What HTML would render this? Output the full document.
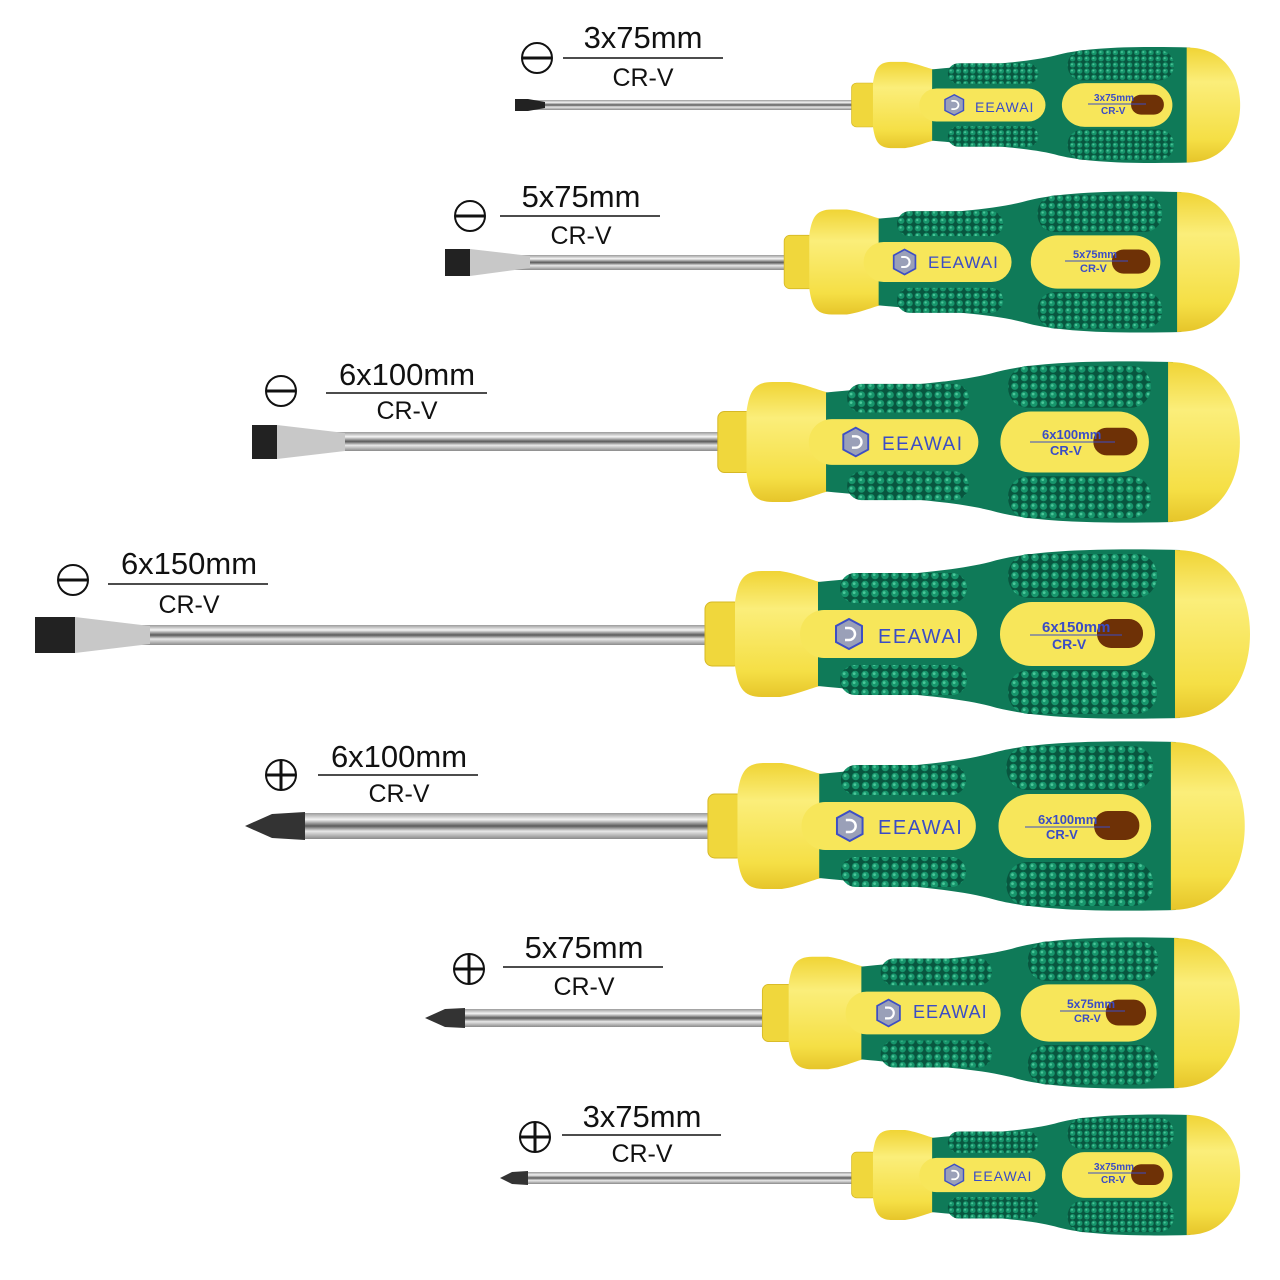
<!DOCTYPE html>
<html><head><meta charset="utf-8"><style>html,body{margin:0;padding:0;background:#fff}svg{display:block}</style></head>
<body>
<svg width="1280" height="1280" viewBox="0 0 1280 1280" xmlns="http://www.w3.org/2000/svg">
<defs>
<pattern id="dots" width="10" height="9" patternUnits="userSpaceOnUse">
<rect width="10" height="9" fill="#08563f"/>
<circle cx="5" cy="4.5" r="3.8" fill="#17966c"/>
<circle cx="4.2" cy="3.6" r="1.4" fill="#4cc79a"/>
</pattern>
<linearGradient id="sh" x1="0" y1="0" x2="0" y2="1">
<stop offset="0" stop-color="#9a9a9a"/><stop offset="0.25" stop-color="#f4f4f4"/><stop offset="0.5" stop-color="#5a5a5a"/><stop offset="0.7" stop-color="#e8e8e8"/><stop offset="1" stop-color="#8a8a8a"/>
</linearGradient>
<linearGradient id="yl" x1="0" y1="0" x2="0" y2="1">
<stop offset="0" stop-color="#f0d435"/><stop offset="0.3" stop-color="#fbee7a"/><stop offset="0.8" stop-color="#f5df45"/><stop offset="1" stop-color="#e6c52a"/>
</linearGradient>
<g id="h">
<rect x="5" y="-32" width="36" height="64" rx="7" fill="#f0d73c" stroke="#d6b825"/>
<path d="M35,-32 C38,-52 42,-63 62,-63 L80,-63 C100,-60 112,-53 125,-51 L125,51 C112,53 100,60 80,63 L62,63 C42,63 38,52 35,32 Z" fill="url(#yl)"/>
<path d="M118,-52 C200,-60 250,-62 290,-72 C330,-84 400,-86 480,-84 L480,84 C400,86 330,84 290,72 C250,62 200,60 118,52 Z" fill="#0f7a58"/>
<path d="M475,-84 C530,-84 550,-40 550,0 C550,40 530,84 475,84 Z" fill="url(#yl)"/>
<rect x="100" y="-24" width="177" height="48" rx="24" fill="#f7e65a"/>
<rect x="300" y="-32" width="155" height="64" rx="32" fill="#f7e65a"/>
<rect x="397" y="-15" width="46" height="29" rx="14" fill="#6e3106"/>
<rect x="140" y="-61" width="127" height="30" rx="15" fill="url(#dots)"/>
<rect x="308" y="-80" width="149" height="44" rx="21" fill="url(#dots)"/>
<rect x="140" y="31" width="127" height="30" rx="15" fill="url(#dots)"/>
<rect x="308" y="36" width="149" height="44" rx="21" fill="url(#dots)"/>
<polygon points="149,-15 162,-8 162,8 149,15 136,8 136,-8" fill="#9aa0b8" stroke="#3d4fc4" stroke-width="2"/>
<path d="M145,-6 L149,-6 A6,6 0 0 1 149,6 L145,6" fill="none" stroke="#fff" stroke-width="2.5"/>
</g>
</defs>
<g font-family="Liberation Sans, sans-serif" fill="#111">
<g fill="none" stroke="#111" stroke-width="2">
<circle cx="537" cy="58" r="15"/><line x1="522" y1="58" x2="552" y2="58" stroke-width="3"/>
<circle cx="470" cy="216" r="15"/><line x1="455" y1="216" x2="485" y2="216" stroke-width="3"/>
<circle cx="281" cy="391" r="15"/><line x1="266" y1="391" x2="296" y2="391" stroke-width="3"/>
<circle cx="73" cy="580" r="15"/><line x1="58" y1="580" x2="88" y2="580" stroke-width="3"/>
<circle cx="281" cy="775" r="15"/><line x1="266" y1="775" x2="296" y2="775" stroke-width="3"/><line x1="281" y1="760" x2="281" y2="790" stroke-width="3"/>
<circle cx="469" cy="969" r="15"/><line x1="454" y1="969" x2="484" y2="969" stroke-width="3"/><line x1="469" y1="954" x2="469" y2="984" stroke-width="3"/>
<circle cx="535" cy="1137" r="15"/><line x1="520" y1="1137" x2="550" y2="1137" stroke-width="3"/><line x1="535" y1="1122" x2="535" y2="1152" stroke-width="3"/>
<line x1="563" y1="58" x2="723" y2="58" stroke-width="1.6"/>
<line x1="500" y1="216" x2="660" y2="216" stroke-width="1.6"/>
<line x1="326" y1="393" x2="487" y2="393" stroke-width="1.6"/>
<line x1="108" y1="584" x2="268" y2="584" stroke-width="1.6"/>
<line x1="318" y1="775" x2="478" y2="775" stroke-width="1.6"/>
<line x1="503" y1="967" x2="663" y2="967" stroke-width="1.6"/>
<line x1="562" y1="1135" x2="721" y2="1135" stroke-width="1.6"/>
</g>
<g text-anchor="middle" font-size="31">
<text x="643" y="48">3x75mm</text><text x="643" y="86" font-size="25">CR-V</text>
<text x="581" y="207">5x75mm</text><text x="581" y="244" font-size="25">CR-V</text>
<text x="407" y="385">6x100mm</text><text x="407" y="419" font-size="25">CR-V</text>
<text x="189" y="574">6x150mm</text><text x="189" y="613" font-size="25">CR-V</text>
<text x="399" y="767">6x100mm</text><text x="399" y="802" font-size="25">CR-V</text>
<text x="584" y="958">5x75mm</text><text x="584" y="995" font-size="25">CR-V</text>
<text x="642" y="1127">3x75mm</text><text x="642" y="1162" font-size="25">CR-V</text>
</g>
<rect x="525" y="100" width="330" height="10" fill="url(#sh)"/>
<path d="M515,99 L528,99 L545,102 L545,108 L528,111 L515,111 Z" fill="#222"/>
<rect x="470" y="255" width="315" height="15" fill="url(#sh)"/>
<path d="M445,249 L470,249 L470,276 L445,276 Z" fill="#222"/><path d="M470,249 L530,256 L530,268 L470,276 Z" fill="#c8c8c8"/>
<rect x="275" y="432" width="445" height="19" fill="url(#sh)"/>
<path d="M252,425 L277,425 L277,459 L252,459 Z" fill="#222"/><path d="M277,425 L345,433 L345,451 L277,459 Z" fill="#c8c8c8"/>
<rect x="75" y="625" width="635" height="20" fill="url(#sh)"/>
<path d="M35,617 L75,617 L75,653 L35,653 Z" fill="#222"/><path d="M75,617 L150,626 L150,644 L75,653 Z" fill="#c8c8c8"/>
<rect x="300" y="813" width="410" height="26" fill="url(#sh)"/>
<path d="M245,826 L272,814 L305,812 L305,840 L272,838 Z" fill="#333"/>
<rect x="460" y="1009" width="305" height="18" fill="url(#sh)"/>
<path d="M425,1018 L445,1009 L465,1008 L465,1028 L445,1027 Z" fill="#333"/>
<rect x="525" y="1172" width="330" height="12" fill="url(#sh)"/>
<path d="M500,1178 L512,1172 L528,1171 L528,1185 L512,1184 Z" fill="#333"/>
<g transform="translate(848,105) scale(0.713,0.685)"><use href="#h"/></g>
<g transform="translate(780,262) scale(0.836,0.833)"><use href="#h"/></g>
<g transform="translate(713,442) scale(0.958,0.952)"><use href="#h"/></g>
<g transform="translate(700,634)"><use href="#h"/></g>
<g transform="translate(703,826) scale(0.985,1)"><use href="#h"/></g>
<g transform="translate(758,1013) scale(0.876,0.893)"><use href="#h"/></g>
<g transform="translate(848,1175) scale(0.713,0.714)"><use href="#h"/></g>
<g fill="#3a4cc6" font-weight="bold">
<text x="975" y="112" font-size="14" font-weight="normal" letter-spacing="1">EEAWAI</text>
<text x="1094" y="101" font-size="10">3x75mm</text><text x="1101" y="114" font-size="10">CR-V</text>
<text x="928" y="268" font-size="17" font-weight="normal" letter-spacing="1">EEAWAI</text>
<text x="1073" y="258" font-size="11">5x75mm</text><text x="1080" y="272" font-size="11">CR-V</text>
<text x="882" y="450" font-size="19" font-weight="normal" letter-spacing="1.5">EEAWAI</text>
<text x="1042" y="439" font-size="13">6x100mm</text><text x="1050" y="455" font-size="13">CR-V</text>
<text x="878" y="643" font-size="20" font-weight="normal" letter-spacing="1.5">EEAWAI</text>
<text x="1042" y="632" font-size="15">6x150mm</text><text x="1052" y="649" font-size="14">CR-V</text>
<text x="878" y="834" font-size="20" font-weight="normal" letter-spacing="1.5">EEAWAI</text>
<text x="1038" y="824" font-size="13">6x100mm</text><text x="1046" y="839" font-size="13">CR-V</text>
<text x="913" y="1018" font-size="18" font-weight="normal" letter-spacing="1">EEAWAI</text>
<text x="1067" y="1008" font-size="12">5x75mm</text><text x="1074" y="1022" font-size="11">CR-V</text>
<text x="973" y="1181" font-size="14" font-weight="normal" letter-spacing="1">EEAWAI</text>
<text x="1094" y="1170" font-size="10">3x75mm</text><text x="1101" y="1183" font-size="10">CR-V</text>
</g>
<g stroke="#3a4cc6" stroke-width="1">
<line x1="1088" y1="104" x2="1146" y2="104"/><line x1="1065" y1="261" x2="1128" y2="261"/>
<line x1="1030" y1="442" x2="1115" y2="442"/><line x1="1030" y1="635" x2="1122" y2="635"/>
<line x1="1025" y1="827" x2="1110" y2="827"/><line x1="1060" y1="1011" x2="1125" y2="1011"/>
<line x1="1088" y1="1173" x2="1146" y2="1173"/>
</g>
</g>
</svg>
</body></html>
